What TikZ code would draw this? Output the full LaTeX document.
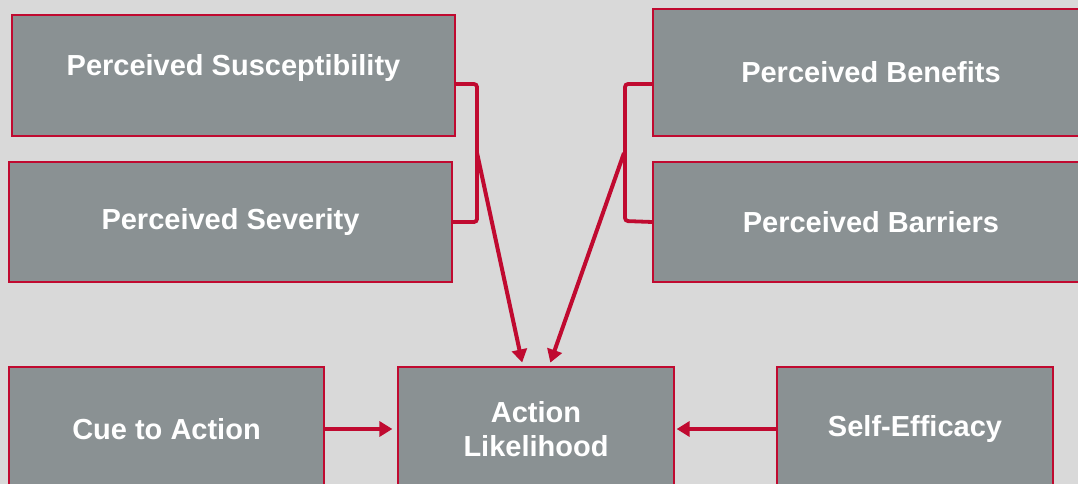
\documentclass[tikz,border=0pt]{standalone}
\usepackage{fontspec}
\setmainfont{Liberation Sans}
\usetikzlibrary{arrows.meta}
\definecolor{hbmred}{HTML}{C00A30}
\definecolor{hbmgray}{HTML}{8A9193}
\definecolor{hbmback}{HTML}{D9D9D9}
\tikzset{
	factor/.style={draw=hbmred, line width=1.2pt, fill=hbmgray, text=white,
		font=\bfseries\fontsize{29}{34}\selectfont, align=center, inner sep=0pt},
	brace/.style={draw=hbmred, line width=3.8pt, rounded corners=3pt},
	push/.style={draw=hbmred, line width=4pt, -{Triangle[length=13pt,width=15pt]}}
}
\begin{document}
\begin{tikzpicture}[x=1pt,y=-1pt]
		\fill[hbmback] (0,0) rectangle (1078,484);
		\clip (0,0) rectangle (1078,484);

		% threat side
		\node[factor, minimum width=443, minimum height=121, text depth=21pt] (sus) at (233.5,75.5) {Perceived Susceptibility};
		\node[factor, minimum width=443, minimum height=120] (sev) at (230.5,222) {Perceived Severity};

		% expectation side
		\node[factor, minimum width=436, minimum height=127] (ben) at (871,72.5) {Perceived Benefits};
		\node[factor, minimum width=436, minimum height=120] (bar) at (871,222) {Perceived Barriers};

		% bottom row
		\node[factor, minimum width=315, minimum height=124] (cue) at (166.5,429) {Cue to Action};
		\node[factor, minimum width=276, minimum height=124] (act) at (536,429) {Action\\Likelihood};
		\node[factor, minimum width=276, minimum height=124] (eff) at (915,429) {Self-Efficacy};

		% brackets
		\coordinate (lb) at (477,153);
		\coordinate (rb) at (624,153);
		\draw[brace] ([yshift=-8.5]sus.east) -| (477,222) -- (sev.east);
		\draw[brace] ([yshift=-11.5]ben.west) -| (625,221) -- (bar.west);

		\draw[push, shorten >=4pt] (lb) -- ([xshift=-13]act.north);
		\draw[push, shorten >=4pt] (rb) -- ([xshift=13]act.north);

		\draw[push, shorten >=5pt] (cue.east) -- (act.west);
		\draw[push, shorten >=2pt] (eff.west) -- (act.east);
	\end{tikzpicture}
\end{document}
